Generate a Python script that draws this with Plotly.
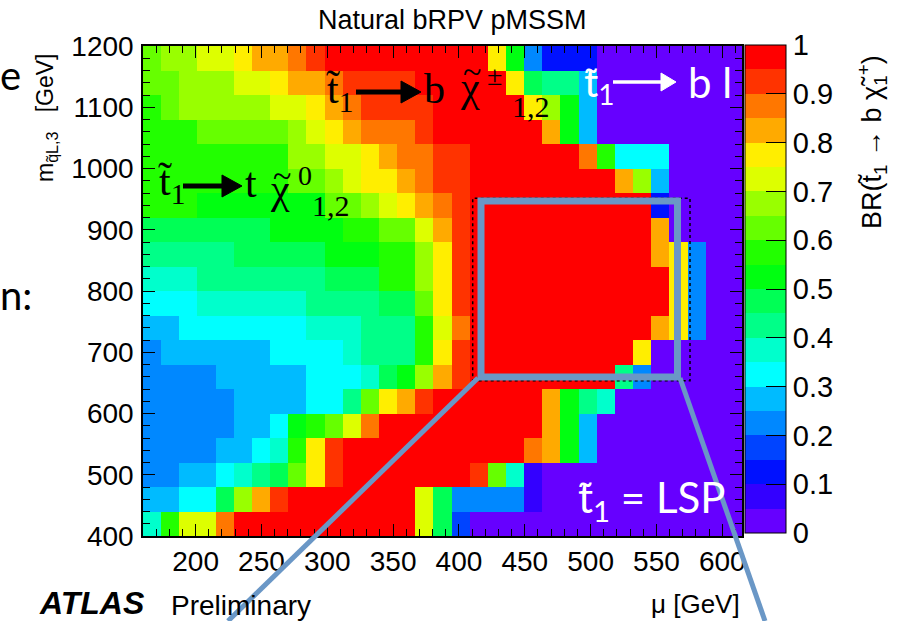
import plotly.graph_objects as go

# ---- data ----
MU_EDGES = [160.0, 173.8, 187.6, 201.4, 215.2, 228.9, 242.7, 256.5, 270.3, 284.1, 297.9,
            311.7, 325.5, 339.2, 353.0, 366.8, 380.6, 394.4, 408.2, 422.0, 435.8, 449.5,
            463.3, 477.1, 490.9, 504.7, 518.5, 532.3, 546.1, 559.8, 573.6, 587.4, 601.2, 615.0]
M_EDGES = [400, 440, 480, 520, 560, 600, 640, 680, 720, 760, 800,
           840, 880, 920, 960, 1000, 1040, 1080, 1120, 1160, 1200]

# BR(t1 -> b chi1+) in percent, rows listed from top (1160-1200) to bottom (400-440)
BR_PCT_TOP_DOWN = [
    [63,68,68,73,73,78,83,83,88,93,98,98,98,98,98,98,98,98,98,78,53,23,13,13,13,3,3,3,3,3,3,3,3],
    [63,63,68,68,68,73,73,78,83,83,88,93,93,93,93,98,98,98,98,98,78,48,43,43,28,3,3,3,3,3,3,3,3],
    [58,63,68,68,68,68,68,73,73,78,83,88,93,93,93,93,98,98,98,98,98,78,68,53,28,3,3,3,3,3,3,3,3],
    [58,58,58,63,63,63,63,63,68,73,78,83,88,88,88,93,98,98,98,98,98,98,83,53,28,3,3,3,3,3,3,3,3],
    [58,58,58,58,58,58,58,58,68,68,73,73,78,83,88,88,93,93,98,98,98,98,98,98,88,58,33,33,33,3,3,3,3],
    [58,58,58,58,58,58,58,58,63,63,68,73,78,78,83,88,93,93,98,98,98,98,98,98,98,98,83,68,28,3,3,3,3],
    [58,58,58,53,53,53,53,53,53,53,63,63,68,73,78,83,88,93,98,98,98,98,98,98,98,98,98,98,13,3,3,3,3],
    [48,48,48,48,48,48,48,53,53,53,53,58,58,63,63,73,83,93,98,98,98,98,98,98,98,98,98,98,83,3,3,3,3],
    [43,43,43,43,43,48,48,48,48,48,53,53,53,58,58,68,78,93,98,98,98,98,98,98,98,98,98,98,83,78,23,3,3],
    [38,38,38,43,43,43,43,43,43,43,48,48,48,58,58,68,78,93,98,98,98,98,98,98,98,98,98,98,98,78,23,3,3],
    [33,33,33,38,38,38,38,38,38,43,43,43,43,48,48,63,78,93,98,98,98,98,98,98,98,98,98,98,98,78,23,3,3],
    [28,28,33,33,33,33,33,33,33,38,38,38,43,43,43,58,73,88,98,98,98,98,98,98,98,98,98,98,83,78,23,3,3],
    [23,28,28,28,28,28,28,33,33,33,33,38,43,43,43,58,78,93,98,98,98,98,98,98,98,98,98,78,3,3,3,3,3],
    [23,23,23,23,28,28,28,28,28,33,33,33,38,48,53,68,83,93,98,98,98,98,98,98,98,98,43,23,3,3,3,3,3],
    [23,23,23,23,23,28,28,28,28,33,33,43,63,78,83,93,98,98,98,98,98,98,83,53,43,38,3,3,3,3,3,3,3],
    [23,23,23,23,23,28,28,33,53,58,63,73,88,98,98,98,98,98,98,98,98,98,83,53,28,3,3,3,3,3,3,3,3],
    [23,23,23,23,28,28,33,38,58,78,93,98,98,98,98,98,98,98,98,98,98,88,83,53,28,3,3,3,3,3,3,3,3],
    [23,23,28,28,33,38,43,48,63,78,93,98,98,98,98,98,98,98,93,63,38,8,3,3,3,3,3,3,3,3,3,3,3],
    [28,28,33,33,48,68,83,93,98,98,98,98,98,98,98,73,48,23,23,23,23,8,3,3,3,3,3,3,3,3,3,3,3],
    [38,58,73,73,88,98,98,98,98,98,98,98,98,98,98,73,48,18,3,3,3,3,3,3,3,3,3,3,3,3,3,3,3],
]

X_TICKS = [200, 250, 300, 350, 400, 450, 500, 550, 600]
Y_TICKS = [400, 500, 600, 700, 800, 900, 1000, 1100, 1200]
CB_TICKS = [0, 0.1, 0.2, 0.3, 0.4, 0.5, 0.6, 0.7, 0.8, 0.9, 1]

PALETTE = ["#6600ff", "#3300ff", "#0011ff", "#0044ff", "#0088ff", "#00bbff", "#00ffff",
           "#00ffcc", "#00ff88", "#00ff55", "#00ff11", "#22ff00", "#66ff00", "#99ff00",
           "#ddff00", "#ffee00", "#ffaa00", "#ff7700", "#ff3300", "#ff0000"]

for r in BR_PCT_TOP_DOWN:
    assert len(r) == 33, len(r)

z = [[v / 100.0 for v in row] for row in reversed(BR_PCT_TOP_DOWN)]

n = len(PALETTE)
colorscale = []
for k, c in enumerate(PALETTE):
    colorscale.append([k / n, c])
    colorscale.append([(k + 1) / n, c])

# ---- layout geometry (pixels) ----
W, H = 906, 621
L, T, PW, PH = 143, 46, 599, 490


def px(x):
    return (x - L) / PW


def py(y):
    return 1 - (y - T) / PH


fig = go.Figure()
fig.add_trace(go.Heatmap(
    x=MU_EDGES, y=M_EDGES, z=z, zmin=0, zmax=1, colorscale=colorscale,
    hoverinfo="skip",
    colorbar=dict(
        x=px(745), xanchor="left", xpad=0, y=py(289), yanchor="middle",
        len=488 / PH, lenmode="fraction", thickness=41, thicknessmode="pixels",
        outlinecolor="black", outlinewidth=1,
        tickmode="array", tickvals=CB_TICKS, ticktext=[("%g" % v) for v in CB_TICKS],
        ticks="inside", ticklen=20, tickcolor="black", tickwidth=1.2,
        tickfont=dict(family="Liberation Sans, Arial", size=29, color="black"),
        ypad=0,
    ),
))

axis_font = dict(family="Liberation Sans, Arial", size=28, color="black")
fig.update_xaxes(
    range=[MU_EDGES[0], MU_EDGES[-1]], tickmode="array", tickvals=X_TICKS,
    ticks="inside", ticklen=12, tickwidth=1.2, tickcolor="black",
    minor=dict(ticks="inside", dtick=10, ticklen=7, tickcolor="black", tickwidth=1),
    showline=True, linecolor="black", linewidth=1.5, mirror="ticks",
    showgrid=False, zeroline=False, tickfont=axis_font,
)
fig.update_yaxes(
    range=[M_EDGES[0], M_EDGES[-1]], tickmode="array", tickvals=Y_TICKS,
    ticks="inside", ticklen=12, tickwidth=1.2, tickcolor="black",
    minor=dict(ticks="inside", dtick=20, ticklen=7, tickcolor="black", tickwidth=1),
    showline=True, linecolor="black", linewidth=1.5, mirror="ticks",
    showgrid=False, zeroline=False, tickfont=axis_font, ticklabelstandoff=2,
)

ann = []
shapes = []
serif = "Liberation Serif, Times New Roman, serif"
sans = "Liberation Sans, Arial"
slide = "Lato, Open Sans, sans-serif"


def text(x, y, s, size, family=sans, color="black", xanchor="center", yanchor="middle", angle=0):
    ann.append(dict(x=px(x), y=py(y), xref="paper", yref="paper", text=s, showarrow=False,
                    font=dict(family=family, size=size, color=color),
                    xanchor=xanchor, yanchor=yanchor, textangle=angle))


def arrow(x0, x1, y, color, w, hl, hw):
    shapes.append(dict(type="line", xref="paper", yref="paper",
                       x0=px(x0), y0=py(y), x1=px(x1 - hl + 2), y1=py(y),
                       line=dict(color=color, width=w), layer="above"))
    path = "M %f,%f L %f,%f L %f,%f Z" % (px(x1 - hl), py(y - hw), px(x1), py(y),
                                         px(x1 - hl), py(y + hw))
    shapes.append(dict(type="path", xref="paper", yref="paper", path=path,
                       fillcolor=color, line=dict(color=color, width=1), layer="above"))


# title and axis titles
text(452, 20, "Natural bRPV pMSSM", 27)
text(46, 118, "m<sub>q̃L,3</sub>   [GeV]", 23, angle=-90)
text(872, 142, "BR(t̃<sub>1</sub> → b χ̃<sub>1</sub><sup>+</sup>)", 27, angle=-90)
text(742, 604, "μ [GeV]", 26, xanchor="right")
text(37, 603, "<b><i>ATLAS</i></b>", 32, xanchor="left")
text(169, 605, "Preliminary", 28, xanchor="left")

# physics label: t1 -> b chi+-_{1,2}
text(355, 92, "t̃<sub>1</sub>", 42, family=serif, xanchor="right")
arrow(356, 421, 92, "black", 5, 20, 11)
text(422, 89, "b", 42, family=serif, xanchor="left")
text(458, 87, "χ", 42, family=serif, xanchor="left")
text(472, 72, "~", 34, family=serif)
text(485, 75, "±", 28, family=serif, xanchor="left")
text(510, 106, "1,2", 30, family=serif, xanchor="left")

# physics label: t1 -> t chi0_{1,2}
text(187, 184, "t̃<sub>1</sub>", 42, family=serif, xanchor="right")
arrow(183, 242, 186, "black", 5, 20, 11)
text(243, 183, "t", 42, family=serif, xanchor="left")
text(268, 189, "χ", 42, family=serif, xanchor="left")
text(282, 175, "~", 34, family=serif)
text(296, 175, "0", 28, family=serif, xanchor="left")
text(310, 205, "1,2", 30, family=serif, xanchor="left")

# white labels
text(617, 84, "t̃<sub>1</sub>", 40, family=slide, color="white", xanchor="right")
arrow(613, 676, 82, "white", 3.5, 15, 9)
text(686, 82, "b l", 42, family=slide, color="white", xanchor="left")
text(576, 500, "t̃<sub>1</sub> = LSP", 42, family=slide, color="white", xanchor="left")

# leftover slide text
text(-2, 75, "e", 40, family=slide, xanchor="left")
text(-2, 295, "n:", 40, family=slide, xanchor="left")

shapes.append(dict(type="rect", xref="paper", yref="paper",
                   x0=px(472.7), x1=px(690), y0=py(380.7), y1=py(198.3),
                   line=dict(color="black", width=1.5, dash="dot"), layer="above"))
shapes.append(dict(type="rect", xref="paper", yref="paper",
                   x0=px(481), x1=px(677.5), y0=py(377), y1=py(201),
                   line=dict(color="#6a97c6", width=7), layer="above"))
shapes.append(dict(type="line", xref="paper", yref="paper",
                   x0=px(478), y0=py(378), x1=px(228), y1=py(621),
                   line=dict(color="#6a97c6", width=5), layer="above"))
shapes.append(dict(type="line", xref="paper", yref="paper",
                   x0=px(680), y0=py(378), x1=px(765), y1=py(621),
                   line=dict(color="#6a97c6", width=5), layer="above"))

fig.update_layout(
    width=W, height=H, autosize=False,
    margin=dict(l=L, r=W - L - PW, t=T, b=H - T - PH, pad=0),
    paper_bgcolor="white", plot_bgcolor="white",
    annotations=ann, shapes=shapes, showlegend=False,
)

fig.write_html("out.html")
